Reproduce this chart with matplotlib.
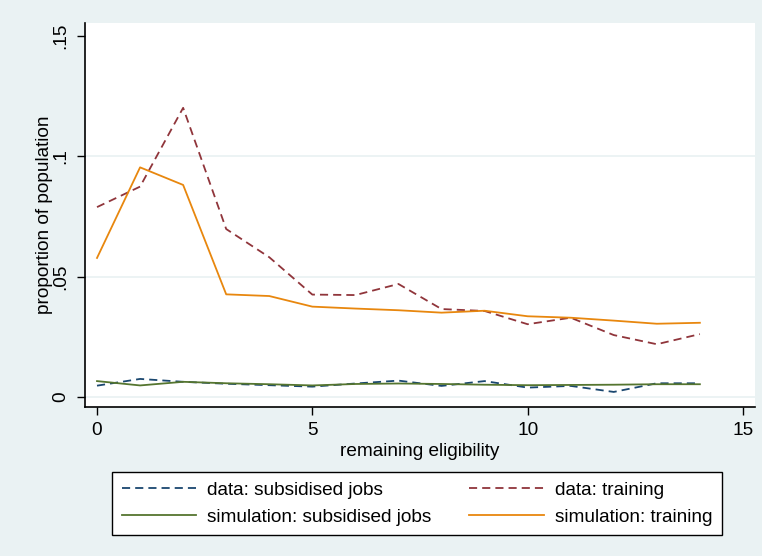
import numpy as np
import matplotlib.pyplot as plt

plt.rcParams['font.family'] = ['Liberation Sans', 'DejaVu Sans']

# remaining eligibility (months)
elig = list(range(15))

# observed proportions
data_subs = [0.0047, 0.0075, 0.0063, 0.0055, 0.0049, 0.0043, 0.0056, 0.0068,
             0.0046, 0.0066, 0.0039, 0.0046, 0.0021, 0.0057, 0.0057]
data_train = [0.0788, 0.0873, 0.1200, 0.0697, 0.0580, 0.0425, 0.0423, 0.0469,
              0.0365, 0.0357, 0.0302, 0.0329, 0.0257, 0.0219, 0.0261]

# simulated proportions
sim_subs = [0.0066, 0.0048, 0.0063, 0.0057, 0.0053, 0.0048, 0.0054, 0.0056,
            0.0054, 0.0051, 0.0049, 0.0050, 0.0051, 0.0053, 0.0053]
sim_train = [0.0577, 0.0953, 0.0880, 0.0426, 0.0419, 0.0375, 0.0367, 0.0360,
             0.0350, 0.0358, 0.0335, 0.0329, 0.0317, 0.0304, 0.0308]

yticks = [0, 0.05, 0.1, 0.15]
yticklabels = ['0', '.05', '.1', '.15']
ygrid = [0, 0.05, 0.1]
xticks = [0, 5, 10, 15]

# Stata s2color scheme
bg = '#EAF2F3'
navy = '#1A476F'
maroon = '#90353B'
green = '#55752F'
orange = '#E8870E'

fs = 13.7

fig = plt.figure(figsize=(7.62, 5.56), dpi=100, facecolor=bg)
ax = fig.add_axes([85 / 762, 1 - 407 / 556, 670 / 762, 384 / 556])
ax.set_facecolor('white')

dash = (4.5, 2.8)
ax.plot(elig, data_subs, color=navy, lw=1.3, dashes=dash, label='data: subsidised jobs')
ax.plot(elig, data_train, color=maroon, lw=1.3, dashes=dash, label='data: training')
ax.plot(elig, sim_subs, color=green, lw=1.3, label='simulation: subsidised jobs')
ax.plot(elig, sim_train, color=orange, lw=1.3, label='simulation: training')

ax.set_xlim(-0.279, 15.28)
ax.set_ylim(-0.00415, 0.1552)

for y in ygrid:
    ax.axhline(y, color=bg, lw=1.3, zorder=0)

ax.set_yticks(yticks)
ax.set_yticklabels(yticklabels, rotation=90, va='center')
ax.set_xticks(xticks)
ax.tick_params(direction='out', length=6, width=1, color='black',
               labelsize=fs, pad=5)

for side in ['top', 'right']:
    ax.spines[side].set_visible(False)
for side in ['left', 'bottom']:
    ax.spines[side].set_linewidth(1.2)

ax.set_xlabel('remaining eligibility', fontsize=fs, labelpad=3)
ax.set_ylabel('proportion of population', fontsize=fs, labelpad=0)

handles, labels = ax.get_legend_handles_labels()
order = [0, 2, 1, 3]
leg = fig.legend([handles[i] for i in order], [labels[i] for i in order],
                 ncol=2, loc='upper left',
                 bbox_to_anchor=(112 / 762, 1 - 472 / 556),
                 fontsize=fs, handlelength=3.9, columnspacing=2.0,
                 handletextpad=0.6, borderaxespad=0, labelspacing=0.5,
                 fancybox=False, framealpha=1, edgecolor='black',
                 borderpad=0.5)
leg.get_frame().set_linewidth(1.0)

fig.savefig('out.png', dpi=100, facecolor=bg)
